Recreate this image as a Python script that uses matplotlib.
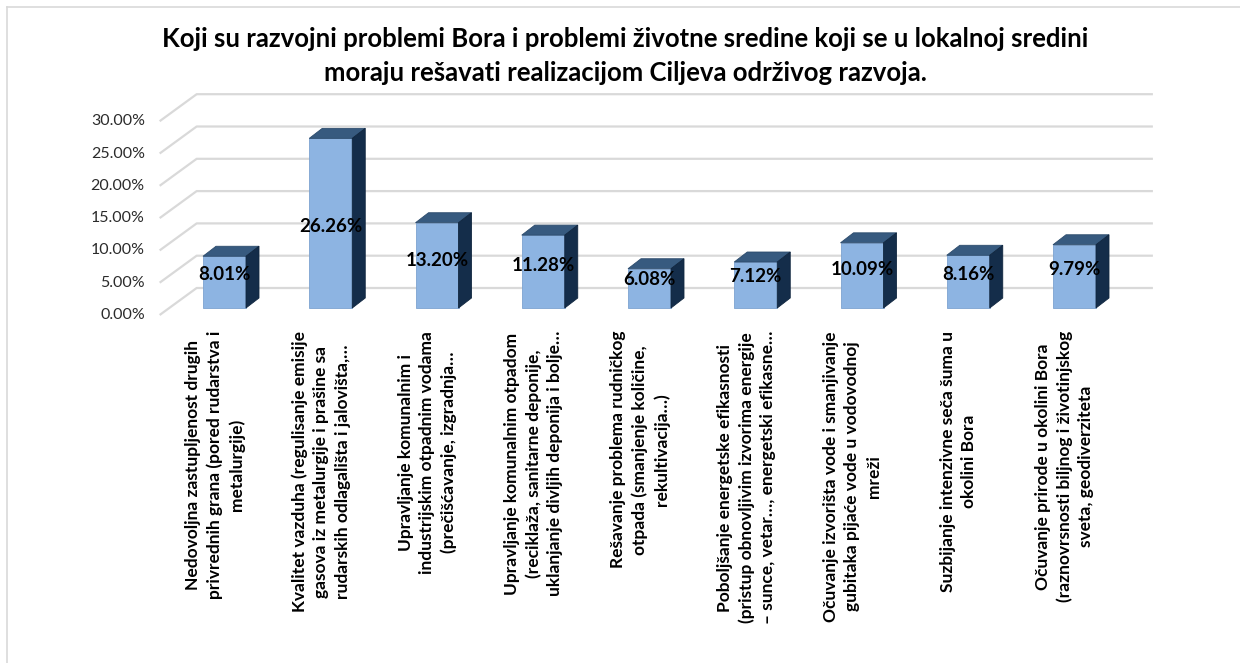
import numpy as np
import matplotlib.pyplot as plt
from matplotlib.patches import Polygon
from matplotlib.lines import Line2D

plt.rcParams['font.family'] = ['Lato', 'DejaVu Sans']

# Data
categories = [
    "Nedovoljna zastupljenost drugih\nprivrednih grana (pored rudarstva i\nmetalurgije)",
    "Kvalitet vazduha (regulisanje emisije\ngasova iz metalurgije i prašine sa\nrudarskih odlagališta i jalovišta,…",
    "Upravljanje komunalnim i\nindustrijskim otpadnim vodama\n(prečišćavanje, izgradnja…",
    "Upravljanje komunalnim otpadom\n(reciklaža, sanitarne deponije,\nuklanjanje divljih deponija i bolje…",
    "Rešavanje problema rudničkog\notpada (smanjenje količine,\nrekultivacija…)",
    "Poboljšanje energetske efikasnosti\n(pristup obnovljivim izvorima energije\n– sunce, vetar…, energetski efikasne…",
    "Očuvanje izvorišta vode i smanjivanje\ngubitaka pijaće vode u vodovodnoj\nmreži",
    "Suzbijanje intenzivne seča šuma u\nokolini Bora",
    "Očuvanje prirode u okolini Bora\n(raznovrsnosti biljnog i životinjskog\nsveta, geodiverziteta",
]
values = [8.01, 26.26, 13.20, 11.28, 6.08, 7.12, 10.09, 8.16, 9.79]
y_ticks = [0, 5, 10, 15, 20, 25, 30]
title = ("Koji su razvojni problemi Bora i problemi životne sredine koji se u lokalnoj sredini\n"
         "moraju rešavati realizacijom Ciljeva održivog razvoja.")

# layout (pixels) for the fake 3D look
W, H = 1240, 663
PX_CAT = 106.25   # px per category
PX_PCT = 6.46     # px per percent
X0_PX = 224.5     # first bar centre
Y0_PX = 308       # bar base line

fig = plt.figure(figsize=(W / 100, H / 100), dpi=100)
left_px, right_px, top_px, bot_px = 100, 1200, 70, 330
ax = fig.add_axes([left_px / W, 1 - bot_px / H, (right_px - left_px) / W, (bot_px - top_px) / H])
ax.set_xlim((left_px - X0_PX) / PX_CAT, (right_px - X0_PX) / PX_CAT)
ax.set_ylim((Y0_PX - bot_px) / PX_PCT, (Y0_PX - top_px) / PX_PCT)
ax.axis('off')

# depth offsets in data units
fdx, fdy = -9.6 / PX_CAT, -7 / PX_PCT     # floor front edge
bdx, bdy = 27.4 / PX_CAT, 20 / PX_PCT     # back wall
ddx, ddy = 13 / PX_CAT, 10 / PX_PCT       # bar depth
wall_l, wall_r = -0.52, 8.48
bw = 43 / PX_CAT

grid_c = '#D9D9D9'
for t in y_ticks:
    ax.plot([wall_l + fdx, wall_l + bdx, wall_r + bdx], [t + fdy, t + bdy, t + bdy],
            color=grid_c, lw=1.6, zorder=1, solid_capstyle='butt')
    ax.text(wall_l + fdx - 0.14, t + fdy, f"{t:.2f}%", ha='right', va='center',
            fontsize=11.5, color='#2b2b2b')

x = np.arange(len(values))
ax.bar(x, values, width=bw, color='#8DB4E2', edgecolor='#7DA3D0', lw=0.6, zorder=3)
for xi, v in zip(x, values):
    x1, x2 = xi - bw / 2, xi + bw / 2
    top = [(x1, v), (x2, v), (x2 + ddx, v + ddy), (x1 + ddx, v + ddy)]
    side = [(x2, 0), (x2 + ddx, ddy), (x2 + ddx, v + ddy), (x2, v)]
    ax.add_patch(Polygon(top, closed=True, fc='#375A7F', ec='#2C4B6C', lw=0.6, zorder=3))
    ax.add_patch(Polygon(side, closed=True, fc='#142D4A', ec='#10263F', lw=0.6, zorder=3))
    ax.text(xi, 1.9 + 0.41 * v, f"{v:.2f}%", ha='center', va='center',
            fontsize=13.5, fontweight='bold', color='black', zorder=5)

for xi, lab in zip(x, categories):
    ax.text(xi + fdx, (Y0_PX - 331) / PX_PCT, lab, rotation=90, ha='center', va='top',
            multialignment='center', fontsize=12.5, fontweight='bold', linespacing=1.4)

fig.text(625 / W, 1 - 56 / H, title, ha='center', va='center', fontsize=18.5,
         fontweight='bold', linespacing=1.5)

# outer chart frame
fig.add_artist(Line2D([7 / W, 1], [1 - 7 / H, 1 - 7 / H], color=grid_c, lw=1.2))
fig.add_artist(Line2D([7 / W, 7 / W], [0, 1 - 7 / H], color=grid_c, lw=1.2))

fig.savefig('out.png', dpi=100)
